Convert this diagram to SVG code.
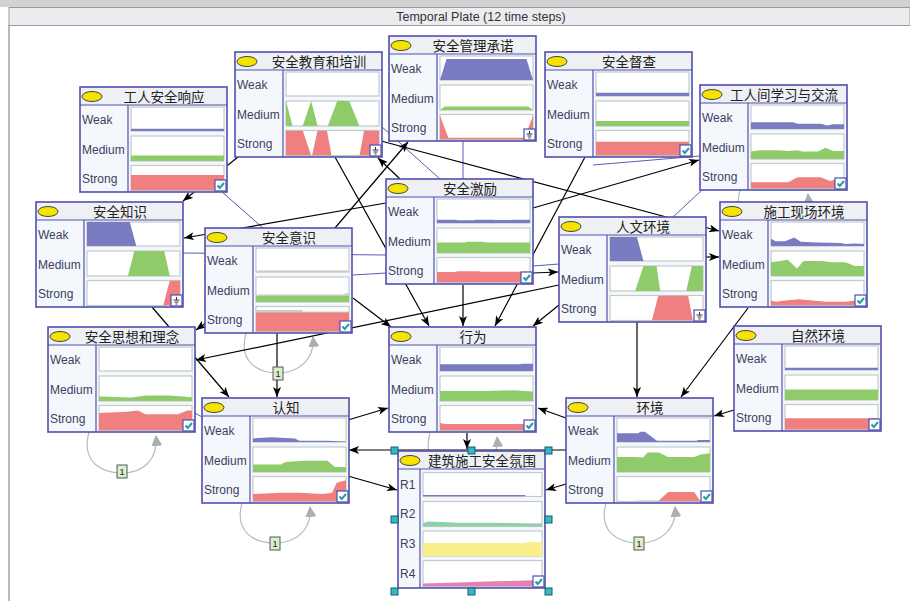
<svg xmlns="http://www.w3.org/2000/svg" width="910" height="601" viewBox="0 0 910 601">
<defs>
<style>
.bg{fill:#f4f8fc}
.bd{fill:none;stroke:#4f4fb0;stroke-width:1.6}
.hdr{fill:#eef0f4}
.sep{stroke:#4f4fb0;stroke-width:1.2}
.bulb{fill:#f4e400;stroke:#444;stroke-width:1}
.ttl{font-family:"Noto Sans CJK SC",sans-serif;font-size:13.5px;fill:#222;text-anchor:middle}
.st{font-family:"Liberation Sans",Arial,sans-serif;font-size:12px;fill:#3a3f60}
.cf{fill:#fff;stroke:#c2caca;stroke-width:1.2}
.w{fill:#7b7bc1}.m{fill:#8fcb6b}.s{fill:#f08080}.g{fill:#c8cccc}
.r2{fill:#8ed0aa}.r3{fill:#fbef8c}.r4{fill:#e67fb4}
.ck rect,.ev rect{fill:#fff;stroke:#4f4fb0;stroke-width:1.2}
.ck path{fill:none;stroke:#1f9f9f;stroke-width:2}
.ev path{fill:none;stroke:#333;stroke-width:1}
.cn{stroke:#000;stroke-width:1.2;fill:none;marker-end:url(#ah)}
.bl{stroke:#5a5ab8;stroke-width:1;fill:none}
.lp{stroke:#b4bcbc;stroke-width:1.2;fill:none;marker-end:url(#gh)}
.one rect{fill:#d9f0c4;stroke:#556;stroke-width:1}
.one text{font-family:"Liberation Sans",Arial,sans-serif;font-size:9px;fill:#222;text-anchor:middle}
.hd{fill:#34b8c8;stroke:#1a5a6a;stroke-width:1}
</style>
<marker id="ah" viewBox="0 0 10 8" refX="10" refY="4" markerWidth="10" markerHeight="8" markerUnits="userSpaceOnUse" orient="auto"><path d="M0,0 L10,4 L0,8 L2.5,4z" fill="#000"/></marker>
<marker id="gh" viewBox="0 0 10 10" refX="9" refY="5" markerWidth="11" markerHeight="11" markerUnits="userSpaceOnUse" orient="auto"><path d="M0,0 L10,5 L0,10z" fill="#a8b0b0"/></marker>
</defs>
<rect width="910" height="601" fill="#fff"/>
<rect x="0" y="0" width="910" height="7" fill="#d2d2d2"/>
<rect x="9" y="7.5" width="901" height="18" fill="#ececf0" stroke="#9a9a9a"/>
<text x="481" y="21" font-family="Liberation Sans,Arial,sans-serif" font-size="12.5" fill="#333" text-anchor="middle">Temporal Plate (12 time steps)</text>
<line x1="9" y1="25" x2="9" y2="601" stroke="#8a8a8a" stroke-width="1.2"/>

<g id="loops">
<path class="lp" d="M246,333 C238,362 258,373 278,373 C298,373 315,360 313,337"/>
<path class="lp" d="M89,432 C81,462 101,473 122,473 C143,473 158,460 156,436"/>
<path class="lp" d="M242,503 C234,532 254,543 275,543 C296,543 312,530 310,507"/>
<path class="lp" d="M606,503 C598,532 618,543 639,543 C660,543 677,530 675,507"/>
<path class="lp" d="M430,433 C422,462 442,473 463,473 C484,473 499,460 497,437"/>
<path class="lp" d="M740,190 C732,219 752,230 774,230 C796,230 810,217 808,194"/>
</g>

<g id="connectors">
<path class="bl" d="M222,192 L263,228"/>
<path class="bl" d="M183,253 L386,255"/>
<path class="bl" d="M353,275 L386,273"/>
<path class="bl" d="M533,266 L559,264"/>
<path class="bl" d="M463,141 L463,179"/>
<path class="bl" d="M381,126 L440,179"/>
<path class="bl" d="M593,165 L700,156"/>
<path class="bl" d="M702,190 L673,217"/>
<path class="bl" d="M195,413 L202,417"/>
<path class="cn" d="M238,157 L183,201"/>
<path class="cn" d="M386,203 L184,238"/>
<path class="cn" d="M335,157 L429,326"/>
<path class="cn" d="M463,285 L463,326"/>
<path class="cn" d="M585,157 L495,326"/>
<path class="cn" d="M559,305 L533,326"/>
<path class="cn" d="M559,285 L196,360"/>
<path class="cn" d="M152,307 L229,397"/>
<path class="cn" d="M277,333 L277,397"/>
<path class="cn" d="M207,322 L196,330"/>
<path class="cn" d="M348,420 L388,408"/>
<path class="cn" d="M566,450 L349,450"/>
<path class="cn" d="M348,476 L397,490"/>
<path class="cn" d="M566,484 L546,490"/>
<path class="cn" d="M566,418 L538,408"/>
<path class="cn" d="M467,433 L467,449"/>
<path class="cn" d="M637,322 L637,397"/>
<path class="cn" d="M748,308 L681,397"/>
<path class="cn" d="M734,410 L714,416"/>
<path class="cn" d="M533,208 L699,160"/>
<path class="cn" d="M381,141 L719,231"/>
<path class="cn" d="M706,257 L719,257"/>
<path class="cn" d="M335,228 L408,142"/>
<path class="cn" d="M400,179 L378,158"/>
<path class="cn" d="M533,273 L558,272"/>
<path class="cn" d="M353,298 L391,327"/>
</g>

<g id="n1" transform="translate(80,87)">
<rect class="bg" width="147" height="105"/><rect class="hdr" width="147" height="18"/>
<line class="sep" x1="0" y1="18" x2="147" y2="18"/><line class="sep" x1="48" y1="18" x2="48" y2="105"/>
<ellipse class="bulb" cx="12" cy="9.5" rx="10" ry="5"/><text class="ttl" x="84" y="14.5">工人安全响应</text>
<text class="st" x="2" y="37">Weak</text><text class="st" x="2" y="67">Medium</text><text class="st" x="2" y="96">Strong</text>
<rect class="cf" x="51" y="20" width="93" height="24"/><svg x="51" y="20" width="93" height="24" viewBox="0 0 100 100" preserveAspectRatio="none"><polygon class="w" points="0,91 100,91 100,100 0,100"/></svg>
<rect class="cf" x="51" y="49" width="93" height="25"/><svg x="51" y="49" width="93" height="25" viewBox="0 0 100 100" preserveAspectRatio="none"><polygon class="m" points="0,78 100,78 100,100 0,100"/></svg>
<rect class="cf" x="51" y="78.5" width="93" height="25"/><svg x="51" y="78.5" width="93" height="25" viewBox="0 0 100 100" preserveAspectRatio="none"><polygon class="s" points="0,38 100,38 100,100 0,100"/></svg>
<g class="ck" transform="translate(135,93)"><rect width="11" height="11"/><path d="M2.5,5.5 L4.8,8 L9,3"/></g>
<rect class="bd" width="147" height="105"/>
</g>

<g id="n2" transform="translate(235,52)">
<rect class="bg" width="147" height="105"/><rect class="hdr" width="147" height="18"/>
<line class="sep" x1="0" y1="18" x2="147" y2="18"/><line class="sep" x1="48" y1="18" x2="48" y2="105"/>
<ellipse class="bulb" cx="12" cy="9.5" rx="10" ry="5"/><text class="ttl" x="84" y="14.5">安全教育和培训</text>
<text class="st" x="2" y="37">Weak</text><text class="st" x="2" y="67">Medium</text><text class="st" x="2" y="96">Strong</text>
<rect class="cf" x="51" y="20" width="93" height="24"/>
<rect class="cf" x="51" y="49" width="93" height="25"/><svg x="51" y="49" width="93" height="25" viewBox="0 0 100 100" preserveAspectRatio="none"><polygon class="m" points="0,0 7,100 0,100"/><polygon class="m" points="18,100 27,0 34,100"/><polygon class="m" points="45,100 55,0 68,0 79,100"/></svg>
<rect class="cf" x="51" y="78.5" width="93" height="25"/><svg x="51" y="78.5" width="93" height="25" viewBox="0 0 100 100" preserveAspectRatio="none"><polygon class="s" points="0,0 18,0 27,100 0,100"/><polygon class="s" points="28,100 34,0 44,0 49,100"/><polygon class="s" points="79,100 84,0 100,0 100,100"/></svg>
<g class="ev" transform="translate(135,93)"><rect width="11" height="11"/><path d="M5.5,2 V5 M2.5,5 H8.5 M3.5,7 H7.5 M4.5,9 H6.5"/></g>
<rect class="bd" width="147" height="105"/>
</g>

<g id="n3" transform="translate(389,36)">
<rect class="bg" width="147" height="105"/><rect class="hdr" width="147" height="18"/>
<line class="sep" x1="0" y1="18" x2="147" y2="18"/><line class="sep" x1="48" y1="18" x2="48" y2="105"/>
<ellipse class="bulb" cx="12" cy="9.5" rx="10" ry="5"/><text class="ttl" x="84" y="14.5">安全管理承诺</text>
<text class="st" x="2" y="37">Weak</text><text class="st" x="2" y="67">Medium</text><text class="st" x="2" y="96">Strong</text>
<rect class="cf" x="51" y="20" width="93" height="24"/><svg x="51" y="20" width="93" height="24" viewBox="0 0 100 100" preserveAspectRatio="none"><polygon class="w" points="0,100 7,12 93,12 100,100"/></svg>
<rect class="cf" x="51" y="49" width="93" height="25"/><svg x="51" y="49" width="93" height="25" viewBox="0 0 100 100" preserveAspectRatio="none"><polygon class="m" points="0,100 5,86 95,86 100,100"/></svg>
<rect class="cf" x="51" y="78.5" width="93" height="25"/><svg x="51" y="78.5" width="93" height="25" viewBox="0 0 100 100" preserveAspectRatio="none"><polygon class="s" points="0,5 9,93 91,93 100,5 100,100 0,100"/></svg>
<g class="ev" transform="translate(135,93)"><rect width="11" height="11"/><path d="M5.5,2 V5 M2.5,5 H8.5 M3.5,7 H7.5 M4.5,9 H6.5"/></g>
<rect class="bd" width="147" height="105"/>
</g>

<g id="n4" transform="translate(545,52)">
<rect class="bg" width="147" height="105"/><rect class="hdr" width="147" height="18"/>
<line class="sep" x1="0" y1="18" x2="147" y2="18"/><line class="sep" x1="48" y1="18" x2="48" y2="105"/>
<ellipse class="bulb" cx="12" cy="9.5" rx="10" ry="5"/><text class="ttl" x="84" y="14.5">安全督查</text>
<text class="st" x="2" y="37">Weak</text><text class="st" x="2" y="67">Medium</text><text class="st" x="2" y="96">Strong</text>
<rect class="cf" x="51" y="20" width="93" height="24"/><svg x="51" y="20" width="93" height="24" viewBox="0 0 100 100" preserveAspectRatio="none"><polygon class="w" points="0,86 100,86 100,100 0,100"/></svg>
<rect class="cf" x="51" y="49" width="93" height="25"/><svg x="51" y="49" width="93" height="25" viewBox="0 0 100 100" preserveAspectRatio="none"><polygon class="m" points="0,80 100,80 100,100 0,100"/></svg>
<rect class="cf" x="51" y="78.5" width="93" height="25"/><svg x="51" y="78.5" width="93" height="25" viewBox="0 0 100 100" preserveAspectRatio="none"><polygon class="s" points="0,45 100,45 100,100 0,100"/></svg>
<g class="ck" transform="translate(135,93)"><rect width="11" height="11"/><path d="M2.5,5.5 L4.8,8 L9,3"/></g>
<rect class="bd" width="147" height="105"/>
</g>

<g id="n5" transform="translate(700,85)">
<rect class="bg" width="147" height="105"/><rect class="hdr" width="147" height="18"/>
<line class="sep" x1="0" y1="18" x2="147" y2="18"/><line class="sep" x1="48" y1="18" x2="48" y2="105"/>
<ellipse class="bulb" cx="12" cy="9.5" rx="10" ry="5"/><text class="ttl" x="84" y="14.5">工人间学习与交流</text>
<text class="st" x="2" y="37">Weak</text><text class="st" x="2" y="67">Medium</text><text class="st" x="2" y="96">Strong</text>
<rect class="cf" x="51" y="20" width="93" height="24"/><svg x="51" y="20" width="93" height="24" viewBox="0 0 100 100" preserveAspectRatio="none"><polygon class="w" points="0,72 45,72 50,78 75,78 82,85 88,80 100,80 100,100 0,100"/></svg>
<rect class="cf" x="51" y="49" width="93" height="25"/><svg x="51" y="49" width="93" height="25" viewBox="0 0 100 100" preserveAspectRatio="none"><polygon class="m" points="0,70 10,65 30,65 40,68 50,65 55,70 72,70 80,55 88,68 100,68 100,100 0,100"/></svg>
<rect class="cf" x="51" y="78.5" width="93" height="25"/><svg x="51" y="78.5" width="93" height="25" viewBox="0 0 100 100" preserveAspectRatio="none"><polygon class="s" points="0,75 40,75 50,55 75,55 85,70 92,62 100,62 100,100 0,100"/></svg>
<g class="ck" transform="translate(135,93)"><rect width="11" height="11"/><path d="M2.5,5.5 L4.8,8 L9,3"/></g>
<rect class="bd" width="147" height="105"/>
</g>

<g id="n6" transform="translate(36,202)">
<rect class="bg" width="147" height="105"/><rect class="hdr" width="147" height="18"/>
<line class="sep" x1="0" y1="18" x2="147" y2="18"/><line class="sep" x1="48" y1="18" x2="48" y2="105"/>
<ellipse class="bulb" cx="12" cy="9.5" rx="10" ry="5"/><text class="ttl" x="84" y="14.5">安全知识</text>
<text class="st" x="2" y="37">Weak</text><text class="st" x="2" y="67">Medium</text><text class="st" x="2" y="96">Strong</text>
<rect class="cf" x="51" y="20" width="93" height="24"/><svg x="51" y="20" width="93" height="24" viewBox="0 0 100 100" preserveAspectRatio="none"><polygon class="w" points="0,0 46,0 53,100 0,100"/></svg>
<rect class="cf" x="51" y="49" width="93" height="25"/><svg x="51" y="49" width="93" height="25" viewBox="0 0 100 100" preserveAspectRatio="none"><polygon class="m" points="44,100 51,0 83,0 89,100"/></svg>
<rect class="cf" x="51" y="78.5" width="93" height="25"/><svg x="51" y="78.5" width="93" height="25" viewBox="0 0 100 100" preserveAspectRatio="none"><polygon class="s" points="82,100 89,0 100,0 100,100"/></svg>
<g class="ev" transform="translate(135,93)"><rect width="11" height="11"/><path d="M5.5,2 V5 M2.5,5 H8.5 M3.5,7 H7.5 M4.5,9 H6.5"/></g>
<rect class="bd" width="147" height="105"/>
</g>

<g id="n7" transform="translate(205,228)">
<rect class="bg" width="147" height="105"/><rect class="hdr" width="147" height="18"/>
<line class="sep" x1="0" y1="18" x2="147" y2="18"/><line class="sep" x1="48" y1="18" x2="48" y2="105"/>
<ellipse class="bulb" cx="12" cy="9.5" rx="10" ry="5"/><text class="ttl" x="84" y="14.5">安全意识</text>
<text class="st" x="2" y="37">Weak</text><text class="st" x="2" y="67">Medium</text><text class="st" x="2" y="96">Strong</text>
<rect class="cf" x="51" y="20" width="93" height="24"/><svg x="51" y="20" width="93" height="24" viewBox="0 0 100 100" preserveAspectRatio="none"><polygon class="g" points="0,94 100,94 100,100 0,100"/></svg>
<rect class="cf" x="51" y="49" width="93" height="25"/><svg x="51" y="49" width="93" height="25" viewBox="0 0 100 100" preserveAspectRatio="none"><polygon class="g" points="0,70 95,70 95,66 100,66 100,100 0,100"/><polygon class="m" points="0,76 100,76 100,100 0,100"/></svg>
<rect class="cf" x="51" y="78.5" width="93" height="25"/><svg x="51" y="78.5" width="93" height="25" viewBox="0 0 100 100" preserveAspectRatio="none"><polygon class="g" points="0,14 50,14 50,20 100,20 100,100 0,100"/><polygon class="s" points="0,24 100,24 100,100 0,100"/></svg>
<g class="ck" transform="translate(135,93)"><rect width="11" height="11"/><path d="M2.5,5.5 L4.8,8 L9,3"/></g>
<rect class="bd" width="147" height="105"/>
</g>

<g id="n8" transform="translate(386,179)">
<rect class="bg" width="147" height="105"/><rect class="hdr" width="147" height="18"/>
<line class="sep" x1="0" y1="18" x2="147" y2="18"/><line class="sep" x1="48" y1="18" x2="48" y2="105"/>
<ellipse class="bulb" cx="12" cy="9.5" rx="10" ry="5"/><text class="ttl" x="84" y="14.5">安全激励</text>
<text class="st" x="2" y="37">Weak</text><text class="st" x="2" y="67">Medium</text><text class="st" x="2" y="96">Strong</text>
<rect class="cf" x="51" y="20" width="93" height="24"/><svg x="51" y="20" width="93" height="24" viewBox="0 0 100 100" preserveAspectRatio="none"><polygon class="w" points="0,86 20,86 22,89 40,89 42,86 60,86 62,88 80,88 82,86 100,86 100,100 0,100"/></svg>
<rect class="cf" x="51" y="49" width="93" height="25"/><svg x="51" y="49" width="93" height="25" viewBox="0 0 100 100" preserveAspectRatio="none"><polygon class="m" points="0,58 30,58 32,55 50,55 52,58 100,58 100,100 0,100"/></svg>
<rect class="cf" x="51" y="78.5" width="93" height="25"/><svg x="51" y="78.5" width="93" height="25" viewBox="0 0 100 100" preserveAspectRatio="none"><polygon class="s" points="0,58 20,58 22,55 45,55 47,57 100,57 100,100 0,100"/></svg>
<g class="ck" transform="translate(135,93)"><rect width="11" height="11"/><path d="M2.5,5.5 L4.8,8 L9,3"/></g>
<rect class="bd" width="147" height="105"/>
</g>

<g id="n9" transform="translate(559,217)">
<rect class="bg" width="147" height="105"/><rect class="hdr" width="147" height="18"/>
<line class="sep" x1="0" y1="18" x2="147" y2="18"/><line class="sep" x1="48" y1="18" x2="48" y2="105"/>
<ellipse class="bulb" cx="12" cy="9.5" rx="10" ry="5"/><text class="ttl" x="84" y="14.5">人文环境</text>
<text class="st" x="2" y="37">Weak</text><text class="st" x="2" y="67">Medium</text><text class="st" x="2" y="96">Strong</text>
<rect class="cf" x="51" y="20" width="93" height="24"/><svg x="51" y="20" width="93" height="24" viewBox="0 0 100 100" preserveAspectRatio="none"><polygon class="w" points="0,0 29,0 36,100 0,100"/></svg>
<rect class="cf" x="51" y="49" width="93" height="25"/><svg x="51" y="49" width="93" height="25" viewBox="0 0 100 100" preserveAspectRatio="none"><polygon class="m" points="27,100 36,0 50,0 54,100"/><polygon class="m" points="82,100 88,0 100,0 100,100"/></svg>
<rect class="cf" x="51" y="78.5" width="93" height="25"/><svg x="51" y="78.5" width="93" height="25" viewBox="0 0 100 100" preserveAspectRatio="none"><polygon class="s" points="45,100 52,0 84,0 89,100"/></svg>
<g class="ev" transform="translate(135,93)"><rect width="11" height="11"/><path d="M5.5,2 V5 M2.5,5 H8.5 M3.5,7 H7.5 M4.5,9 H6.5"/></g>
<rect class="bd" width="147" height="105"/>
</g>

<g id="n10" transform="translate(720,202)">
<rect class="bg" width="147" height="105"/><rect class="hdr" width="147" height="18"/>
<line class="sep" x1="0" y1="18" x2="147" y2="18"/><line class="sep" x1="48" y1="18" x2="48" y2="105"/>
<ellipse class="bulb" cx="12" cy="9.5" rx="10" ry="5"/><text class="ttl" x="84" y="14.5">施工现场环境</text>
<text class="st" x="2" y="37">Weak</text><text class="st" x="2" y="67">Medium</text><text class="st" x="2" y="96">Strong</text>
<rect class="cf" x="51" y="20" width="93" height="24"/><svg x="51" y="20" width="93" height="24" viewBox="0 0 100 100" preserveAspectRatio="none"><polygon class="w" points="0,70 5,80 15,80 25,65 32,82 50,85 75,88 80,92 90,90 100,92 100,100 0,100"/></svg>
<rect class="cf" x="51" y="49" width="93" height="25"/><svg x="51" y="49" width="93" height="25" viewBox="0 0 100 100" preserveAspectRatio="none"><polygon class="m" points="0,45 10,40 18,35 28,70 35,40 55,40 65,45 80,45 90,60 100,60 100,100 0,100"/></svg>
<rect class="cf" x="51" y="78.5" width="93" height="25"/><svg x="51" y="78.5" width="93" height="25" viewBox="0 0 100 100" preserveAspectRatio="none"><polygon class="s" points="0,80 5,85 15,80 30,75 45,80 60,85 80,85 90,80 100,80 100,100 0,100"/></svg>
<g class="ck" transform="translate(135,93)"><rect width="11" height="11"/><path d="M2.5,5.5 L4.8,8 L9,3"/></g>
<rect class="bd" width="147" height="105"/>
</g>

<g id="n11" transform="translate(48,327)">
<rect class="bg" width="147" height="105"/><rect class="hdr" width="147" height="18"/>
<line class="sep" x1="0" y1="18" x2="147" y2="18"/><line class="sep" x1="48" y1="18" x2="48" y2="105"/>
<ellipse class="bulb" cx="12" cy="9.5" rx="10" ry="5"/><text class="ttl" x="84" y="14.5">安全思想和理念</text>
<text class="st" x="2" y="37">Weak</text><text class="st" x="2" y="67">Medium</text><text class="st" x="2" y="96">Strong</text>
<rect class="cf" x="51" y="20" width="93" height="24"/>
<rect class="cf" x="51" y="49" width="93" height="25"/><svg x="51" y="49" width="93" height="25" viewBox="0 0 100 100" preserveAspectRatio="none"><polygon class="m" points="0,82 35,86 50,78 75,78 90,82 100,85 100,100 0,100"/></svg>
<rect class="cf" x="51" y="78.5" width="93" height="25"/><svg x="51" y="78.5" width="93" height="25" viewBox="0 0 100 100" preserveAspectRatio="none"><polygon class="s" points="0,30 30,25 42,20 50,35 85,35 95,20 100,20 100,100 0,100"/></svg>
<g class="ck" transform="translate(135,93)"><rect width="11" height="11"/><path d="M2.5,5.5 L4.8,8 L9,3"/></g>
<rect class="bd" width="147" height="105"/>
</g>

<g id="n12" transform="translate(202,398)">
<rect class="bg" width="147" height="105"/><rect class="hdr" width="147" height="18"/>
<line class="sep" x1="0" y1="18" x2="147" y2="18"/><line class="sep" x1="48" y1="18" x2="48" y2="105"/>
<ellipse class="bulb" cx="12" cy="9.5" rx="10" ry="5"/><text class="ttl" x="84" y="14.5">认知</text>
<text class="st" x="2" y="37">Weak</text><text class="st" x="2" y="67">Medium</text><text class="st" x="2" y="96">Strong</text>
<rect class="cf" x="51" y="20" width="93" height="24"/><svg x="51" y="20" width="93" height="24" viewBox="0 0 100 100" preserveAspectRatio="none"><polygon class="w" points="0,85 20,80 45,85 50,95 80,95 100,98 100,100 0,100"/></svg>
<rect class="cf" x="51" y="49" width="93" height="25"/><svg x="51" y="49" width="93" height="25" viewBox="0 0 100 100" preserveAspectRatio="none"><polygon class="m" points="0,70 30,70 35,60 55,55 80,55 88,80 100,80 100,100 0,100"/></svg>
<rect class="cf" x="51" y="78.5" width="93" height="25"/><svg x="51" y="78.5" width="93" height="25" viewBox="0 0 100 100" preserveAspectRatio="none"><polygon class="s" points="0,70 30,65 50,65 75,70 85,65 90,25 100,15 100,100 0,100"/></svg>
<g class="ck" transform="translate(135,93)"><rect width="11" height="11"/><path d="M2.5,5.5 L4.8,8 L9,3"/></g>
<rect class="bd" width="147" height="105"/>
</g>

<g id="n13" transform="translate(389,327)">
<rect class="bg" width="147" height="105"/><rect class="hdr" width="147" height="18"/>
<line class="sep" x1="0" y1="18" x2="147" y2="18"/><line class="sep" x1="48" y1="18" x2="48" y2="105"/>
<ellipse class="bulb" cx="12" cy="9.5" rx="10" ry="5"/><text class="ttl" x="84" y="14.5">行为</text>
<text class="st" x="2" y="37">Weak</text><text class="st" x="2" y="67">Medium</text><text class="st" x="2" y="96">Strong</text>
<rect class="cf" x="51" y="20" width="93" height="24"/><svg x="51" y="20" width="93" height="24" viewBox="0 0 100 100" preserveAspectRatio="none"><polygon class="w" points="0,72 85,72 88,70 100,70 100,100 0,100"/></svg>
<rect class="cf" x="51" y="49" width="93" height="25"/><svg x="51" y="49" width="93" height="25" viewBox="0 0 100 100" preserveAspectRatio="none"><polygon class="m" points="0,60 50,60 80,57 90,60 100,62 100,100 0,100"/></svg>
<rect class="cf" x="51" y="78.5" width="93" height="25"/><svg x="51" y="78.5" width="93" height="25" viewBox="0 0 100 100" preserveAspectRatio="none"><polygon class="s" points="0,70 5,74 100,74 100,100 0,100"/></svg>
<g class="ck" transform="translate(135,93)"><rect width="11" height="11"/><path d="M2.5,5.5 L4.8,8 L9,3"/></g>
<rect class="bd" width="147" height="105"/>
</g>

<g id="n14" transform="translate(566,398)">
<rect class="bg" width="147" height="105"/><rect class="hdr" width="147" height="18"/>
<line class="sep" x1="0" y1="18" x2="147" y2="18"/><line class="sep" x1="48" y1="18" x2="48" y2="105"/>
<ellipse class="bulb" cx="12" cy="9.5" rx="10" ry="5"/><text class="ttl" x="84" y="14.5">环境</text>
<text class="st" x="2" y="37">Weak</text><text class="st" x="2" y="67">Medium</text><text class="st" x="2" y="96">Strong</text>
<rect class="cf" x="51" y="20" width="93" height="24"/><svg x="51" y="20" width="93" height="24" viewBox="0 0 100 100" preserveAspectRatio="none"><polygon class="w" points="0,64 23,64 25,57 30,57 43,95 86,95 87,92 100,92 100,100 0,100"/></svg>
<rect class="cf" x="51" y="49" width="93" height="25"/><svg x="51" y="49" width="93" height="25" viewBox="0 0 100 100" preserveAspectRatio="none"><polygon class="m" points="0,40 20,40 28,42 33,22 45,22 55,40 83,40 90,30 100,25 100,100 0,100"/></svg>
<rect class="cf" x="51" y="78.5" width="93" height="25"/><svg x="51" y="78.5" width="93" height="25" viewBox="0 0 100 100" preserveAspectRatio="none"><polygon class="g" points="20,96 100,96 100,100 20,100"/><polygon class="s" points="44,100 55,62 83,62 90,100"/></svg>
<g class="ck" transform="translate(135,93)"><rect width="11" height="11"/><path d="M2.5,5.5 L4.8,8 L9,3"/></g>
<rect class="bd" width="147" height="105"/>
</g>

<g id="n15" transform="translate(734,326)">
<rect class="bg" width="147" height="105"/><rect class="hdr" width="147" height="18"/>
<line class="sep" x1="0" y1="18" x2="147" y2="18"/><line class="sep" x1="48" y1="18" x2="48" y2="105"/>
<ellipse class="bulb" cx="12" cy="9.5" rx="10" ry="5"/><text class="ttl" x="84" y="14.5">自然环境</text>
<text class="st" x="2" y="37">Weak</text><text class="st" x="2" y="67">Medium</text><text class="st" x="2" y="96">Strong</text>
<rect class="cf" x="51" y="20" width="93" height="24"/><svg x="51" y="20" width="93" height="24" viewBox="0 0 100 100" preserveAspectRatio="none"><polygon class="w" points="0,91 100,91 100,100 0,100"/></svg>
<rect class="cf" x="51" y="49" width="93" height="25"/><svg x="51" y="49" width="93" height="25" viewBox="0 0 100 100" preserveAspectRatio="none"><polygon class="m" points="0,58 100,58 100,100 0,100"/></svg>
<rect class="cf" x="51" y="78.5" width="93" height="25"/><svg x="51" y="78.5" width="93" height="25" viewBox="0 0 100 100" preserveAspectRatio="none"><polygon class="s" points="0,55 100,55 100,100 0,100"/></svg>
<g class="ck" transform="translate(135,93)"><rect width="11" height="11"/><path d="M2.5,5.5 L4.8,8 L9,3"/></g>
<rect class="bd" width="147" height="105"/>
</g>

<g id="n16" transform="translate(398,451)">
<rect class="bg" width="147" height="137"/><rect class="hdr" width="147" height="18"/>
<line class="sep" x1="0" y1="18" x2="147" y2="18"/><line class="sep" x1="22" y1="18" x2="22" y2="137"/>
<ellipse class="bulb" cx="12" cy="9.5" rx="10" ry="5"/><text class="ttl" x="84" y="14.5">建筑施工安全氛围</text>
<text class="st" x="2" y="38">R1</text><text class="st" x="2" y="67">R2</text><text class="st" x="2" y="97">R3</text><text class="st" x="2" y="127">R4</text>
<rect class="cf" x="25" y="21.5" width="119" height="24"/><svg x="25" y="21.5" width="119" height="24" viewBox="0 0 100 100" preserveAspectRatio="none"><polygon class="w" points="0,94 86,94 86,100 0,100"/></svg>
<rect class="cf" x="25" y="50.5" width="119" height="25"/><svg x="25" y="50.5" width="119" height="25" viewBox="0 0 100 100" preserveAspectRatio="none"><polygon class="r2" points="0,86 5,80 15,82 30,85 60,85 85,87 100,88 100,100 0,100"/></svg>
<rect class="cf" x="25" y="80" width="119" height="25"/><svg x="25" y="80" width="119" height="25" viewBox="0 0 100 100" preserveAspectRatio="none"><polygon class="r3" points="0,48 85,48 88,44 100,44 100,100 0,100"/></svg>
<rect class="cf" x="25" y="109.5" width="119" height="26"/><svg x="25" y="109.5" width="119" height="26" viewBox="0 0 100 100" preserveAspectRatio="none"><polygon class="r4" points="0,88 30,85 60,80 80,78 100,75 100,100 0,100"/></svg>
<g class="ck" transform="translate(135,125)"><rect width="11" height="11"/><path d="M2.5,5.5 L4.8,8 L9,3"/></g>
<rect class="bd" width="147" height="137"/>
</g>

<g id="handles">
<rect class="hd" x="391" y="447" width="7" height="7"/><rect class="hd" x="468" y="447" width="7" height="7"/><rect class="hd" x="545" y="447" width="7" height="7"/>
<rect class="hd" x="391" y="516" width="7" height="7"/><rect class="hd" x="545" y="516" width="7" height="7"/>
<rect class="hd" x="391" y="588" width="7" height="7"/><rect class="hd" x="468" y="588" width="7" height="7"/><rect class="hd" x="545" y="588" width="7" height="7"/>
</g>

<g id="labels">
<g class="one"><rect x="273" y="367" width="10" height="13"/><text x="278" y="377">1</text></g>
<g class="one"><rect x="117" y="465" width="10" height="13"/><text x="122" y="475">1</text></g>
<g class="one"><rect x="270" y="537" width="10" height="13"/><text x="275" y="547">1</text></g>
<g class="one"><rect x="634" y="537" width="10" height="13"/><text x="639" y="547">1</text></g>
</g>
</svg>
